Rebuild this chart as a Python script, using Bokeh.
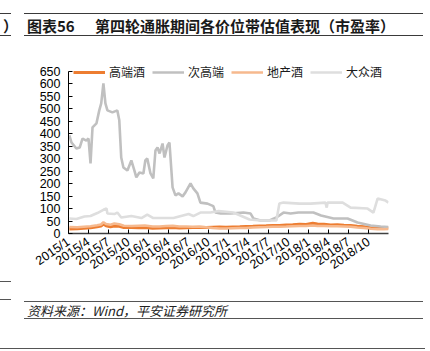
import datetime as dt
from bokeh.plotting import figure
from bokeh.models import Range1d, FixedTicker, Legend, LegendItem, Div
from bokeh.layouts import column
from bokeh.embed import file_html
from bokeh.resources import INLINE

# ---------------- data ----------------
TITLE_TAG = "图表56"
TITLE = "第四轮通胀期间各价位带估值表现（市盈率）"
SOURCE = "资料来源：Wind，平安证券研究所"
SIDE_FRAGMENT = "）"

SERIES_NAMES = ["高端酒", "次高端", "地产酒", "大众酒"]
COLORS = ["#ED7D31", "#C0C0C0", "#F6B98E", "#DEDEDE"]

TICK_LABELS = ["2015/1", "2015/4", "2015/7", "2015/10", "2016/1", "2016/4",
               "2016/7", "2016/10", "2017/1", "2017/4", "2017/7", "2017/10",
               "2018/1", "2018/4", "2018/7", "2018/10"]
Y_TICKS = list(range(0, 651, 50))

gaoduan_dates = ["2015-01-05", "2015-02-10", "2015-03-10", "2015-04-10", "2015-05-10", "2015-05-28",
                 "2015-06-08", "2015-06-20", "2015-07-10", "2015-07-28", "2015-08-20", "2015-09-10",
                 "2015-10-15", "2015-11-15", "2015-12-15", "2016-01-20", "2016-02-20", "2016-03-20",
                 "2016-04-20", "2016-05-20", "2016-06-20", "2016-07-20", "2016-08-20", "2016-09-20",
                 "2016-10-20", "2016-11-20", "2016-12-20", "2017-01-20", "2017-02-20", "2017-03-20",
                 "2017-04-20", "2017-05-20", "2017-06-20", "2017-07-20", "2017-08-20", "2017-09-20",
                 "2017-10-20", "2017-11-20", "2017-12-20", "2018-01-20", "2018-02-10", "2018-03-10",
                 "2018-04-10", "2018-05-10", "2018-06-10", "2018-07-10", "2018-08-10", "2018-09-10",
                 "2018-10-10", "2018-11-10", "2018-12-10", "2018-12-31"]
gaoduan_pe = [18, 19, 21, 23, 27, 30, 38, 31, 27, 30, 29, 24,
              24, 23, 24, 21, 22, 23, 24, 22, 23, 24, 25, 24,
              25, 26, 25, 26, 27, 28, 29, 30, 31, 32, 32, 34,
              35, 37, 36, 41, 38, 37, 34, 35, 33, 32, 29, 27,
              23, 22, 23, 22]

cigaoduan_dates = ["2015-01-05", "2015-01-15", "2015-02-06", "2015-02-20", "2015-03-04", "2015-03-22",
                   "2015-04-01", "2015-04-10", "2015-04-19", "2015-05-07", "2015-05-20", "2015-05-29",
                   "2015-06-08", "2015-06-17", "2015-06-26", "2015-07-19", "2015-08-11", "2015-08-20",
                   "2015-08-29", "2015-09-08", "2015-09-26", "2015-10-14", "2015-10-28", "2015-11-06",
                   "2015-11-20", "2015-12-08", "2015-12-17", "2015-12-26", "2016-01-10", "2016-01-23",
                   "2016-02-02", "2016-02-11", "2016-02-20", "2016-03-04", "2016-03-13", "2016-03-27",
                   "2016-04-05", "2016-04-19", "2016-05-02", "2016-05-16", "2016-06-04", "2016-06-17",
                   "2016-07-10", "2016-07-23", "2016-08-11", "2016-08-25", "2016-09-26", "2016-10-23",
                   "2016-11-02", "2016-11-25", "2017-01-10", "2017-03-08", "2017-04-10", "2017-04-23",
                   "2017-05-25", "2017-07-05", "2017-08-06", "2017-09-08", "2017-10-10", "2017-11-15",
                   "2018-01-23", "2018-02-25", "2018-04-23", "2018-06-26", "2018-08-11", "2018-10-10",
                   "2018-11-25", "2018-12-31"]
cigaoduan_pe = [394, 365, 341, 345, 381, 373, 381, 281, 426, 442, 494, 522,
                602, 522, 494, 486, 494, 454, 305, 265, 253, 293, 253, 225,
                245, 241, 293, 301, 241, 221, 333, 345, 321, 361, 305, 353,
                365, 185, 153, 161, 149, 165, 201, 181, 161, 124, 120, 110,
                84, 80, 80, 84, 80, 60, 52, 52, 64, 84, 80, 84,
                84, 72, 60, 60, 44, 32, 28, 26]

dichan_dates = gaoduan_dates
dichan_pe = [26, 25, 27, 29, 33, 36, 45, 38, 35, 40, 37, 31,
             30, 31, 32, 28, 28, 30, 31, 28, 28, 27, 27, 25,
             22, 20, 20, 21, 22, 22, 24, 25, 26, 27, 27, 28,
             29, 30, 30, 32, 30, 30, 29, 29, 28, 27, 24, 22,
             19, 17, 17, 18]

dazhong_dates = ["2015-01-05", "2015-02-06", "2015-03-13", "2015-04-10", "2015-05-11", "2015-06-08",
                 "2015-06-22", "2015-06-26", "2015-07-28", "2015-08-11", "2015-08-29", "2015-10-14",
                 "2015-11-29", "2015-12-26", "2016-01-23", "2016-04-23", "2016-07-01", "2016-07-23",
                 "2016-08-25", "2016-10-10", "2016-11-16", "2017-01-23", "2017-04-05", "2017-05-25",
                 "2017-08-06", "2017-08-20", "2017-09-08", "2017-11-20", "2018-01-10", "2018-03-17",
                 "2018-03-23", "2018-03-27", "2018-06-04", "2018-07-10", "2018-09-26", "2018-10-23",
                 "2018-11-11", "2018-12-17", "2018-12-31"]
dazhong_pe = [60, 58, 68, 70, 82, 95, 100, 80, 78, 84, 64, 70,
              62, 76, 62, 62, 78, 70, 84, 84, 90, 84, 56, 52,
              52, 120, 124, 120, 120, 124, 104, 124, 124, 104, 100, 84,
              140, 132, 124]


def month_pos(s):
    d = dt.date.fromisoformat(s)
    nxt = dt.date(d.year + (d.month == 12), d.month % 12 + 1, 1)
    days = (nxt - dt.date(d.year, d.month, 1)).days
    return (d.year - 2015) * 12 + (d.month - 1) + (d.day - 1) / days


X_END = month_pos("2018-12-31")
Y_TOP = 650 + 9 * 650 / 162   # head-room so the legend sits inside the frame
CJK = "Noto Sans CJK SC"
LATIN = "Liberation Sans"


def hline(left, top, width, color="#3A3A3A"):
    return (f'<div style="position:absolute;left:{left}px;top:{top}px;width:{width}px;'
            f'height:0;border-top:1.5px solid {color};"></div>')


def tspan(txt, left=None, right=None, top=0, size=15, extra=""):
    pos = f"left:{left}px;" if left is not None else f"right:{right}px;"
    return (f'<span style="position:absolute;{pos}top:{top}px;font-size:{size}px;'
            f'line-height:{size + 3}px;white-space:nowrap;color:#1A1A1A;{extra}">{txt}</span>')


# ---------------- header ----------------
hdr_html = (f'<div style="position:relative;width:430px;height:45px;overflow:hidden;'
            f'font-family:\'{CJK}\';">'
            + hline(0, 13, 11) + hline(24, 13, 399) + hline(0, 35, 11) + hline(24, 35, 399)
            + tspan(SIDE_FRAGMENT, left=3, top=17, extra="font-weight:bold;")
            + tspan(TITLE_TAG, left=27, top=17, extra="font-weight:bold;")
            + tspan(TITLE, left=95, top=17, extra="font-weight:bold;")
            + '</div>')
hdr = Div(text=hdr_html, width=430, height=45, margin=(0, 0, 0, 0))

# ---------------- main chart ----------------
p = figure(width=430, height=235, x_range=Range1d(0, X_END), y_range=Range1d(0, Y_TOP),
           output_backend="svg", toolbar_location=None,
           min_border_left=68, min_border_right=42, min_border_top=17, min_border_bottom=47)
p.grid.visible = False
p.outline_line_color = None

series = [(gaoduan_dates, gaoduan_pe, 3.0), (cigaoduan_dates, cigaoduan_pe, 2.6),
          (dichan_dates, dichan_pe, 2.6), (dazhong_dates, dazhong_pe, 2.6)]
items = []
for (ds, vs, w), name, col in zip(series, SERIES_NAMES, COLORS):
    r = p.line([month_pos(d) for d in ds], vs, line_color=col, line_width=w)
    items.append(LegendItem(label=name, renderers=[r]))

p.yaxis.ticker = FixedTicker(ticks=Y_TICKS)
p.yaxis.bounds = (0, 650)
p.yaxis.major_tick_in = 4
p.yaxis.major_tick_out = 0
p.yaxis.minor_tick_line_color = None
p.yaxis.axis_line_color = "#000000"
p.yaxis.major_tick_line_color = "#000000"
p.yaxis.major_label_text_font = LATIN
p.yaxis.major_label_text_font_size = "12.5px"
p.yaxis.major_label_text_color = "#000000"
p.yaxis.major_label_standoff = 8

xt = [3 * i for i in range(len(TICK_LABELS))]
p.xaxis.ticker = FixedTicker(ticks=xt)
p.xaxis.major_label_overrides = {t: lab for t, lab in zip(xt, TICK_LABELS)}
p.xaxis.major_tick_in = 4
p.xaxis.major_tick_out = 0
p.xaxis.minor_tick_line_color = None
p.xaxis.axis_line_color = "#404040"
p.xaxis.axis_line_width = 1.6
p.xaxis.major_tick_line_color = "#000000"
p.xaxis.major_label_text_font = LATIN
p.xaxis.major_label_text_font_size = "12.5px"
p.xaxis.major_label_text_color = "#000000"
p.xaxis.major_label_orientation = 0.6
p.xaxis.major_label_standoff = 7

legend = Legend(items=items, orientation="horizontal", location=(5, 153),
                label_text_font=CJK, label_text_font_size="12px", label_text_color="#1A1A1A",
                glyph_width=32, glyph_height=12, label_height=12, label_standoff=4,
                spacing=7, padding=3, margin=0,
                background_fill_color="white", background_fill_alpha=1.0, border_line_color=None)
p.add_layout(legend)

# ---------------- footer ----------------
ftr_html = (f'<div style="position:relative;width:430px;height:71px;overflow:hidden;'
            f'font-family:\'{CJK}\';">'
            + hline(0, 1, 11, "#555555") + hline(0, 19, 11, "#555555")
            + hline(24, 21, 399, "#555555") + hline(24, 38, 399, "#555555")
            + hline(0, 68, 425, "#555555")
            + tspan(SOURCE, left=27, top=23, size=13, extra="font-style:italic;color:#222222;")
            + '</div>')
ftr = Div(text=ftr_html, width=430, height=71, margin=(0, 0, 0, 0))

layout = column(hdr, p, ftr, spacing=0)
open("out.html", "w").write(file_html(layout, INLINE))
